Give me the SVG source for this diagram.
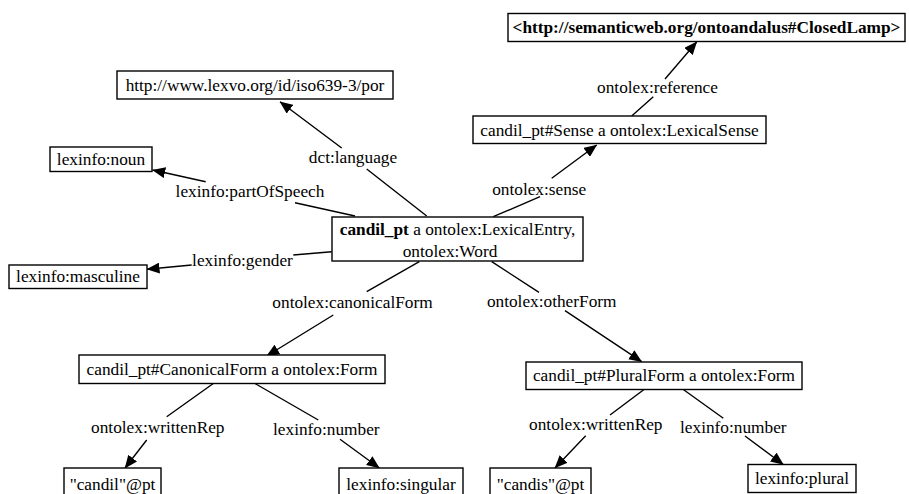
<svg xmlns="http://www.w3.org/2000/svg" width="909" height="494" viewBox="0 0 909 494">
<style>
.box{fill:#fff;stroke:#000;stroke-width:1.4}
.t{font-family:"Liberation Serif","Times New Roman",serif;font-size:17.3px;fill:#000;text-anchor:middle}
.b{font-weight:bold}
.e{fill:none;stroke:#000;stroke-width:1.4}
</style>
<defs>
<marker id="ah" markerUnits="userSpaceOnUse" viewBox="0 0 13 11" refX="12.5" refY="5.5" markerWidth="13" markerHeight="11" orient="auto">
<path d="M0,0 L13,5.5 L0,11 z" fill="#000"/>
</marker>
</defs>
<rect width="909" height="494" fill="#fff"/>
<g id="connectors">
<path class="e" marker-end="url(#ah)" d="M426.7,216 L366.7,169 M341.7,148 L280,101.7"/>
<text class="t" x="353" y="163">dct:language</text>
<path class="e" marker-end="url(#ah)" d="M355,216 L295,202.7 M205.7,181.7 L152.7,170"/>
<text class="t" x="250" y="196.5">lexinfo:partOfSpeech</text>
<path class="e" marker-end="url(#ah)" d="M331.7,251.7 L293.3,255 M191.7,265 L147,269.3"/>
<text class="t" x="242.5" y="265.5">lexinfo:gender</text>
<path class="e" marker-end="url(#ah)" d="M419.3,261.7 L366.7,291.7 M333.3,315 L266.7,356"/>
<text class="t" x="352.5" y="308.3">ontolex:canonicalForm</text>
<path class="e" marker-end="url(#ah)" d="M491.7,261.7 L539,292.3 M565,310.7 L641.7,361.7"/>
<text class="t" x="551.7" y="306.7">ontolex:otherForm</text>
<path class="e" marker-end="url(#ah)" d="M493.3,216.7 L540,196.7 M551.7,178.3 L596.7,145"/>
<text class="t" x="539.2" y="195">ontolex:sense</text>
<path class="e" marker-end="url(#ah)" d="M631.7,116 L653.3,96.7 M665,79 L696.7,42"/>
<text class="t" x="657.5" y="93">ontolex:reference</text>
<path class="e" marker-end="url(#ah)" d="M213.3,383.5 L166.7,416.7 M146.7,440 L125,468"/>
<text class="t" x="157.8" y="433.3">ontolex:writtenRep</text>
<path class="e" marker-end="url(#ah)" d="M255,383.5 L318.3,420 M340,439.3 L379.3,468"/>
<text class="t" x="326.3" y="435">lexinfo:number</text>
<path class="e" marker-end="url(#ah)" d="M644,389.5 L610,415 M585.7,435.7 L555,468"/>
<text class="t" x="595.8" y="430">ontolex:writtenRep</text>
<path class="e" marker-end="url(#ah)" d="M683.3,389.5 L723.3,418.3 M745,436 L783.3,464.5"/>
<text class="t" x="733.3" y="432.7">lexinfo:number</text>
</g>
<g id="n_lamp"><rect class="box" x="508" y="13.5" width="397" height="28"/><text class="t b" x="706.5" y="33">&lt;http://semanticweb.org/ontoandalus#ClosedLamp&gt;</text></g>
<g id="n_sense"><rect class="box" x="473" y="116" width="293" height="27.5"/><text class="t" x="619.5" y="136">candil_pt#Sense a ontolex:LexicalSense</text></g>
<g id="n_lexvo"><rect class="box" x="117" y="71" width="276" height="28"/><text class="t" x="255" y="90.5">http://www.lexvo.org/id/iso639-3/por</text></g>
<g id="n_noun"><rect class="box" x="50" y="147" width="102" height="24.5"/><text class="t" x="101" y="165">lexinfo:noun</text></g>
<g id="n_masc"><rect class="box" x="9" y="265" width="138" height="23.5"/><text class="t" x="78" y="282">lexinfo:masculine</text></g>
<g id="n_entry"><rect class="box" x="332" y="217" width="251" height="44"/><text class="t" x="457.5" y="234.5"><tspan class="b">candil_pt</tspan> a ontolex:LexicalEntry,</text><text class="t" x="450" y="257">ontolex:Word</text></g>
<g id="n_canon"><rect class="box" x="79" y="355" width="306" height="28.5"/><text class="t" x="232" y="375">candil_pt#CanonicalForm a ontolex:Form</text></g>
<g id="n_pluralform"><rect class="box" x="526" y="362" width="276" height="27.5"/><text class="t" x="664" y="381">candil_pt#PluralForm a ontolex:Form</text></g>
<g id="n_candil"><rect class="box" x="64" y="468" width="97" height="30"/><text class="t" x="112.5" y="489.5">"candil"@pt</text></g>
<g id="n_singular"><rect class="box" x="339" y="468" width="124" height="30"/><text class="t" x="401" y="489.5">lexinfo:singular</text></g>
<g id="n_candis"><rect class="box" x="490" y="468" width="101" height="30"/><text class="t" x="540.5" y="489.5">"candis"@pt</text></g>
<g id="n_plural"><rect class="box" x="748" y="464.5" width="108" height="28"/><text class="t" x="802" y="484">lexinfo:plural</text></g>
</svg>
